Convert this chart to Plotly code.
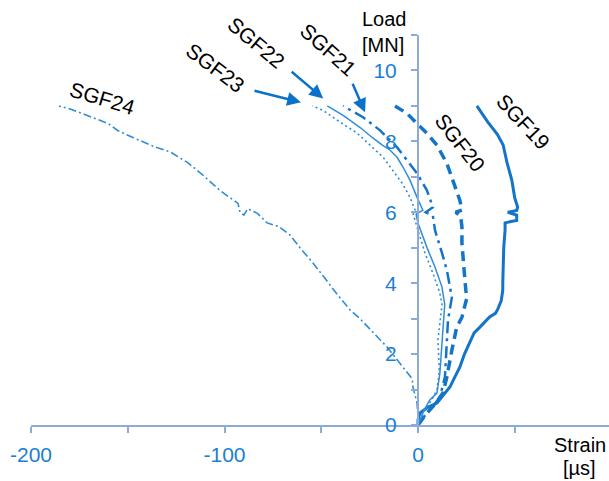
import plotly.graph_objects as go

# ---------------- data (strain [µs], load [MN]) ----------------
sgf19_strain = [0, 0, 1, 5, 9.8, 13, 16.5, 19, 21.6, 24, 26.8, 29, 32, 35, 37, 40, 41, 43, 43.8, 43.8,
                44, 44.3, 45, 45, 48, 51, 51, 46.4, 51, 51.5, 50, 48.5, 46, 44, 41, 36, 30.4]
sgf19_load = [0, 0.14, 0.34, 0.5, 0.62, 0.85, 1.07, 1.35, 1.63, 2.0, 2.31, 2.6, 2.76, 2.95, 3.05, 3.15, 3.24, 3.5, 3.8, 4.0,
              4.5, 5.0, 5.5, 5.7, 5.74, 5.77, 5.92, 6.0, 6.05, 6.15, 6.4, 6.9, 7.4, 7.9, 8.2, 8.55, 9.0]

sgf20_strain = [0, 4, 9, 12.9, 14.9, 16, 17.5, 20, 22.7, 25.3, 24.7, 23.7, 22.7, 22.7, 22, 19.5, 22.7, 21.6,
                18, 14.9, 9.8, 4.6, -0.5, -5.7, -11.9]
sgf20_load = [0, 0.3, 0.6, 0.9, 1.35, 1.7, 2.11, 2.76, 3.04, 3.6, 3.8, 4.45, 5.13, 5.58, 5.9, 6.0, 6.06, 6.34,
              6.9, 7.38, 7.89, 8.23, 8.5, 8.79, 9.0]

sgf21_strain = [0, 4, 8, 11.3, 13.9, 14.9, 15.5, 17.5, 14.9, 12.4, 8.8, 7.7, 4, 7.7, 4.6, -0.5, -5.7, -10.8,
                -19.6, -28.4, -38.7]
sgf21_load = [0, 0.3, 0.55, 0.79, 1.35, 2.2, 2.96, 3.6, 4.37, 4.85, 5.49, 5.9, 6.0, 6.14, 6.62, 7.1, 7.46, 7.83,
              8.31, 8.68, 9.0]

sgf22_strain = [0, 3, 6, 9.8, 11.3, 12.4, 13, 13.8, 12.4, 8.8, 4.6, 0, -1, 2.5, -0.5, -4.1, -7.7, -10.8,
                -14.4, -18.6, -23.7, -29.9, -38.7, -46.9]
sgf22_load = [0, 0.4, 0.7, 0.9, 1.46, 2.39, 3.05, 3.4, 3.89, 4.45, 5.01, 5.69, 5.95, 6.06, 6.42, 6.9, 7.27, 7.55,
              7.75, 7.9, 8.11, 8.39, 8.73, 9.0]

sgf23_strain = [0, 3, 7, 9.8, 11, 10.3, 12.4, 11.3, 7.7, 3.6, 0, -2.5, -1.5, -4.1, -8.2, -12.9, -18, -24.7,
                -31.4, -40.2, -49, -54.6]
sgf23_load = [0, 0.4, 0.7, 1.0, 1.5, 2.4, 3.4, 3.72, 4.28, 4.85, 5.49, 5.95, 6.06, 6.42, 6.82, 7.18, 7.55, 7.89,
              8.23, 8.54, 8.87, 9.0]

sgf24_strain = [0, 0, -0.5, -2.6, -3, -9.3, -16, -23, -30, -35, -42, -49, -54, -61, -66, -72, -78, -83, -88, -90,
                -92, -93, -102, -111, -119, -128, -136.6, -147, -155, -160, -169, -179, -185.5]
sgf24_load = [0, 0.23, 0.62, 1.07, 1.3, 1.75, 2.2, 2.6, 3.0, 3.24, 3.7, 4.2, 4.55, 5.0, 5.35, 5.6, 5.7, 5.97, 6.1, 5.92,
              6.0, 6.25, 6.6, 7.04, 7.4, 7.7, 7.86, 8.1, 8.3, 8.5, 8.7, 8.9, 9.0]

x_tickvals = [-200, -150, -100, -50, 0, 50]
x_ticktext = ["-200", "", "-100", "", "0", ""]
y_tickvals = [0, 1, 2, 3, 4, 5, 6, 7, 8, 9, 10, 11]
y_ticktext = ["0", "", "2", "", "4", "", "6", "", "8", "", "10", ""]

# ---------------- styling ----------------
X_RANGE = [-200, 98.7]
Y_RANGE = [0, 11]
DARK = "#1474c8"
LIGHT = "#2f8dd8"
AXIS = "#8eaadb"
TICKBLUE = "#1a7fd2"
FONT = "Liberation Sans, Arial, sans-serif"

series = [
    ("SGF19", sgf19_strain, sgf19_load, DARK, 3.0, "solid"),
    ("SGF20", sgf20_strain, sgf20_load, DARK, 3.5, "10px,6px"),
    ("SGF21", sgf21_strain, sgf21_load, DARK, 2.5, "12px,5px,3px,5px"),
    ("SGF22", sgf22_strain, sgf22_load, LIGHT, 1.5, "solid"),
    ("SGF23", sgf23_strain, sgf23_load, LIGHT, 1.6, "2px,3px"),
    ("SGF24", sgf24_strain, sgf24_load, LIGHT, 1.6, "8px,3px,2px,3px"),
]

fig = go.Figure()
for name, xs, ys, col, w, dash in series:
    fig.add_trace(go.Scatter(x=xs, y=ys, mode="lines", name=name,
                             line=dict(color=col, width=w, dash=dash),
                             showlegend=False, hoverinfo="skip"))

# rotated labels (x, y, angle)
labels = [
    ("SGF19", 54.3, 8.56, 47),
    ("SGF20", 21.7, 7.97, 52),
    ("SGF21", -46.5, 10.59, 42),
    ("SGF22", -83.7, 10.79, 40),
    ("SGF23", -104.9, 10.08, 37),
    ("SGF24", -162.8, 9.21, 17),
]
annotations = []
for txt, x, y, ang in labels:
    annotations.append(dict(x=x, y=y, xref="x", yref="y", text=txt, showarrow=False,
                            textangle=ang, xanchor="center", yanchor="middle",
                            font=dict(family=FONT, size=21, color="black")))

# arrows (head in data coords, tail offset in px)
arrows = [
    (-60.5, 9.1, -48, -12),
    (-49.0, 9.21, -33, -28),
    (-27.4, 8.82, -13, -30),
]
for x, y, ax, ay in arrows:
    annotations.append(dict(x=x, y=y, xref="x", yref="y", text="", showarrow=True,
                            ax=ax, ay=ay, arrowhead=2, arrowsize=1.1, arrowwidth=2.5,
                            arrowcolor="#0a72c8", standoff=0))

# axis titles (one annotation per line)
titles = [
    ("Load", -30, 1.0423, "left"),
    ("[MN]", -30, 0.9731, "left"),
    ("Strain", 83.5, -0.0512, "center"),
    ("[µs]", 83.5, -0.110, "center"),
]
for txt, x, y, xa in titles:
    annotations.append(dict(x=x, y=y, xref="x", yref="paper", text=txt, showarrow=False,
                            xanchor=xa, yanchor="middle",
                            font=dict(family=FONT, size=20, color="black")))

ypos = (0 - X_RANGE[0]) / (X_RANGE[1] - X_RANGE[0])

fig.update_layout(
    width=609, height=481, autosize=False,
    margin=dict(l=31, r=0, t=34.5, b=56, pad=0),
    plot_bgcolor="white", paper_bgcolor="white",
    showlegend=False,
    annotations=annotations,
    xaxis=dict(range=X_RANGE, showgrid=False, zeroline=False, showline=True,
               linecolor=AXIS, linewidth=2, ticks="outside", ticklen=6, tickwidth=1.5,
               tickcolor=AXIS, tickvals=x_tickvals, ticktext=x_ticktext,
               tickfont=dict(family=FONT, size=21, color=TICKBLUE),
               ticklabelstandoff=4, anchor="y", automargin=False),
    yaxis=dict(range=Y_RANGE, showgrid=False, zeroline=False, showline=True,
               linecolor=AXIS, linewidth=2, ticks="outside", ticklen=6, tickwidth=1.5,
               tickcolor=AXIS, tickvals=y_tickvals, ticktext=y_ticktext,
               tickfont=dict(family=FONT, size=21, color=TICKBLUE),
               ticklabelstandoff=10, anchor="free", position=ypos, automargin=False),
)

fig.write_html("out.html")
